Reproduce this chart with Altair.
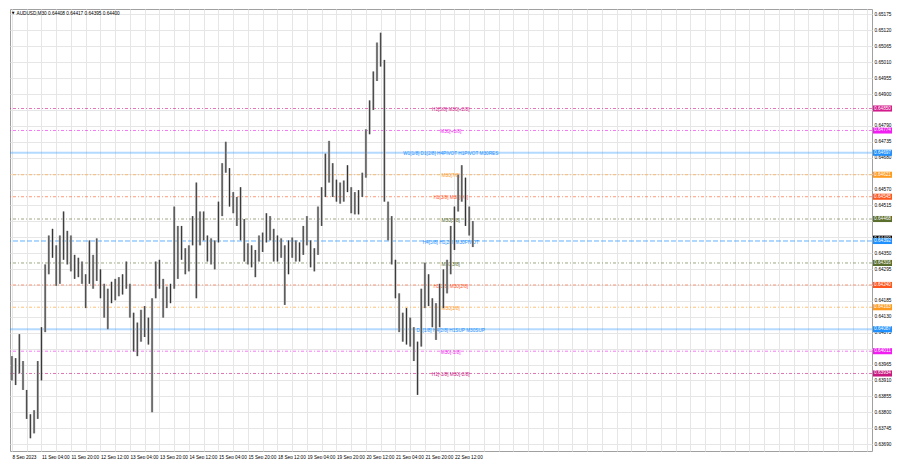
import json
import altair as alt
import pandas as pd

# ---------------- data ----------------
symbol = "AUDUSD,M30"
last_ohlc = [0.64408, 0.64417, 0.64395, 0.64400]

# 2-hour candles (every 4 M30 bars): highs / lows
highs = [0.63994, 0.63987, 0.64070, 0.63977, 0.63877, 0.63793, 0.63807, 0.63977, 0.64094, 0.64311,
         0.64411, 0.64434, 0.64377, 0.64411, 0.64494, 0.64427, 0.64411, 0.64344, 0.64334, 0.64321,
         0.64277, 0.64394, 0.64344, 0.64401, 0.64294, 0.64244, 0.64227, 0.64251, 0.64261, 0.64267,
         0.64277, 0.64321, 0.64244, 0.64144, 0.64110, 0.64154, 0.64167, 0.64127, 0.64194, 0.64321,
         0.64327, 0.64261, 0.64234, 0.64244, 0.64511, 0.64444, 0.64444, 0.64367, 0.64377, 0.64478,
         0.64594, 0.64494, 0.64494, 0.64411, 0.64401, 0.64394, 0.64528, 0.64661, 0.64735, 0.64644,
         0.64561, 0.64544, 0.64578, 0.64468, 0.64384, 0.64377, 0.64361, 0.64411, 0.64421, 0.64488,
         0.64478, 0.64434, 0.64411, 0.64401, 0.64377, 0.64394, 0.64404, 0.64394, 0.64387, 0.64444,
         0.64478, 0.64394, 0.64367, 0.64511, 0.64578, 0.64694, 0.64738, 0.64661, 0.64604, 0.64594,
         0.64601, 0.64654, 0.64578, 0.64561, 0.64568, 0.64628, 0.64778, 0.64878, 0.64978, 0.65078,
         0.65112, 0.65018, 0.64528, 0.64478, 0.64327, 0.64211, 0.64144, 0.64160, 0.64127, 0.64094,
         0.64044, 0.64227, 0.64317, 0.64277, 0.64194, 0.64177, 0.64244, 0.64294, 0.64327, 0.64444,
         0.64511, 0.64621, 0.64654, 0.64611, 0.64511, 0.64461]
lows = [0.63910, 0.63894, 0.63934, 0.63877, 0.63777, 0.63710, 0.63727, 0.63777, 0.63910, 0.64077,
        0.64277, 0.64334, 0.64237, 0.64244, 0.64327, 0.64311, 0.64287, 0.64261, 0.64267, 0.64244,
        0.64160, 0.64244, 0.64227, 0.64254, 0.64194, 0.64127, 0.64087, 0.64177, 0.64187, 0.64201,
        0.64207, 0.64227, 0.64127, 0.64010, 0.63994, 0.64044, 0.64060, 0.64034, 0.63800, 0.64194,
        0.64227, 0.64127, 0.64160, 0.64177, 0.64227, 0.64261, 0.64327, 0.64277, 0.64287, 0.64377,
        0.64194, 0.64377, 0.64394, 0.64321, 0.64311, 0.64294, 0.64387, 0.64478, 0.64628, 0.64511,
        0.64488, 0.64444, 0.64394, 0.64321, 0.64311, 0.64301, 0.64267, 0.64321, 0.64354, 0.64387,
        0.64394, 0.64321, 0.64321, 0.64334, 0.64171, 0.64277, 0.64334, 0.64321, 0.64321, 0.64344,
        0.64377, 0.64301, 0.64287, 0.64344, 0.64444, 0.64544, 0.64594, 0.64544, 0.64528, 0.64521,
        0.64528, 0.64561, 0.64488, 0.64484, 0.64484, 0.64544, 0.64611, 0.64761, 0.64845, 0.64945,
        0.64995, 0.64528, 0.64394, 0.64311, 0.64194, 0.64077, 0.64044, 0.64034, 0.64027, 0.63977,
        0.63860, 0.64027, 0.64160, 0.64167, 0.64094, 0.64050, 0.64094, 0.64160, 0.64211, 0.64277,
        0.64361, 0.64494, 0.64528, 0.64444, 0.64411, 0.64371]
bars = [i * 4 for i in range(len(highs))]  # M30 bar index of each candle

# Murrey-math style levels
level_prices = [0.64850, 0.64774, 0.64697, 0.64621, 0.64545, 0.64468, 0.64392,
                0.64316, 0.64240, 0.64163, 0.64087, 0.64011, 0.63934]
level_texts = ["H1[5/8] M30[+2/8]", "M30[+1/8]", "W1[1/8] D1[2/8] H4PIVOT H1PIVOT M30RES",
               "M30[7/8]", "H1[3/8] M30[6/8]", "M30[5/8]", "H4[3/8] H1[2/8] M30PIVOT",
               "M30[3/8]", "H1[1/8] M30[2/8]", "M30[1/8]", "D1[1/8] H4[2/8] H1SUP M30SUP",
               "M30[-1/8]", "H1[-1/8] M30[-2/8]"]
level_kinds = ["+2/8", "+1/8", "8/8", "7/8", "6/8", "5/8", "4/8",
               "3/8", "2/8", "1/8", "0/8", "-1/8", "-2/8"]
current_price = [0.64400]

# price axis ticks (those covered by the level boxes carry no label) and time axis labels
y_ticks = [0.65175, 0.65120, 0.65065, 0.65010, 0.64955, 0.64900, 0.64845, 0.64790, 0.64735,
           0.64680, 0.64625, 0.64570, 0.64515, 0.64460, 0.64405, 0.64350, 0.64295, 0.64240,
           0.64185, 0.64130, 0.64075, 0.64020, 0.63965, 0.63910, 0.63855, 0.63800, 0.63745,
           0.63690]
y_hidden = [0.64845, 0.64625, 0.64460, 0.64405, 0.64240, 0.64020]
x_label_bars = [0, 32, 64, 96, 128, 160, 192, 224, 256, 288, 320, 352, 384, 416, 448, 480]
x_labels = ["8 Sep 2023", "11 Sep 04:00", "11 Sep 20:00", "12 Sep 12:00", "13 Sep 04:00",
            "13 Sep 20:00", "14 Sep 12:00", "15 Sep 04:00", "15 Sep 20:00", "18 Sep 12:00",
            "19 Sep 04:00", "19 Sep 20:00", "20 Sep 12:00", "21 Sep 04:00", "21 Sep 20:00",
            "22 Sep 12:00"]
text_bar = 476  # bar around which the indicator writes its level names

# ---------------- styling ----------------
W, H = 862, 442
FONT = "Liberation Sans"
FS = 4.7
KIND_COLORS = {"+2/8": "#d41b8c", "+1/8": "#f01ef0", "8/8": "#1e90ff", "7/8": "#ff9a1f",
               "6/8": "#ff561f", "5/8": "#5a6e2e", "4/8": "#1e90ff", "3/8": "#5a6e2e",
               "2/8": "#ff561f", "1/8": "#ff9a1f", "0/8": "#1e90ff", "-1/8": "#f01ef0",
               "-2/8": "#c8187f"}

grid_bars = list(range(0, 929, 16))
x_label_expr = ("indexof(%s, datum.value) >= 0 ? %s[indexof(%s, datum.value)] : ''"
                % (json.dumps(x_label_bars), json.dumps(x_labels), json.dumps(x_label_bars)))
y_label_expr = ("indexof(%s, datum.value) >= 0 ? '' : format(datum.value, '.5f')"
                % json.dumps(y_hidden))

xscale = alt.Scale(domain=[-2.13, 933], nice=False, zero=False)
yscale = alt.Scale(domain=[0.63666, 0.65194], nice=False, zero=False)
xaxis = alt.Axis(values=grid_bars, labelExpr=x_label_expr, grid=True, gridColor="#e6e6e6",
                 gridWidth=1, ticks=False, domain=False, labelFont=FONT, labelFontSize=FS,
                 labelColor="#000000", labelAlign="left", labelPadding=3, labelOverlap=False,
                 labelFlush=False, title=None, zindex=0)
yaxis = alt.Axis(orient="right", values=y_ticks, labelExpr=y_label_expr, grid=True,
                 gridColor="#e6e6e6", gridWidth=1, ticks=False, domain=False, labelFont=FONT,
                 labelFontSize=FS, labelColor="#000000", labelPadding=2, labelOverlap=False,
                 labelFlush=False, labelBaseline="middle", title=None, zindex=0)


def X(field):
    return alt.X(field, scale=xscale, axis=xaxis)


def Y(field):
    return alt.Y(field, scale=yscale, axis=yaxis)


color_scale = alt.Scale(domain=list(KIND_COLORS.keys()), range=list(KIND_COLORS.values()))

candles = pd.DataFrame({"bar": bars, "high": highs, "low": lows})
levels = pd.DataFrame({"price": level_prices, "label": level_texts, "kind": level_kinds})
cur = pd.DataFrame({"price": current_price})
title_df = pd.DataFrame({"t": [symbol + "  " + " ".join("%.5f" % v for v in last_ohlc)],
                         "tri": ["\u25BC"]})

dashdot_kinds = ["+2/8", "+1/8", "7/8", "6/8", "5/8", "3/8", "2/8", "1/8", "-1/8", "-2/8"]

lines_dd = alt.Chart(levels).transform_filter(
    alt.FieldOneOfPredicate(field="kind", oneOf=dashdot_kinds)
).mark_rule(strokeWidth=1, strokeDash=[3, 2, 1, 2], opacity=0.6).encode(
    y=Y("price:Q"), color=alt.Color("kind:N", scale=color_scale, legend=None))

lines_pivot = alt.Chart(levels).transform_filter(
    alt.FieldOneOfPredicate(field="kind", oneOf=["4/8"])
).mark_rule(strokeWidth=1, strokeDash=[5, 2], opacity=0.7).encode(
    y=Y("price:Q"), color=alt.Color("kind:N", scale=color_scale, legend=None))

lines_solid = alt.Chart(levels).transform_filter(
    alt.FieldOneOfPredicate(field="kind", oneOf=["8/8", "0/8"])
).mark_rule(strokeWidth=2, opacity=0.33).encode(
    y=Y("price:Q"), color=alt.Color("kind:N", scale=color_scale, legend=None))

level_text = alt.Chart(levels).mark_text(
    font=FONT, fontSize=FS, baseline="middle", align="center", dy=1.6
).encode(
    x=alt.datum(text_bar, scale=xscale, axis=xaxis),
    y=Y("price:Q"), text="label:N",
    color=alt.Color("kind:N", scale=color_scale, legend=None))

wicks = alt.Chart(candles).mark_rule(strokeWidth=2.4, color="#bcbcbc").encode(
    x=X("bar:Q"), y=Y("high:Q"), y2="low:Q")
bodies = alt.Chart(candles).mark_rule(strokeWidth=1.0, color="#333333").encode(
    x=X("bar:Q"), y=Y("high:Q"), y2="low:Q")

box_shape = "M-1,-0.32H1V0.32H-1Z"
cur_box = alt.Chart(cur).mark_point(shape=box_shape, size=361, filled=True, opacity=1,
                                    strokeWidth=0, color="#000000").encode(
    x=alt.value(W + 10.5), y=Y("price:Q"))
cur_txt = alt.Chart(cur).mark_text(font=FONT, fontSize=FS, color="#ffffff", baseline="middle",
                                   align="center").encode(
    x=alt.value(W + 10.5), y=Y("price:Q"), text=alt.Text("price:Q", format=".5f"))
boxes = alt.Chart(levels).mark_point(shape=box_shape, size=361, filled=True, opacity=1,
                                     strokeWidth=0).encode(
    x=alt.value(W + 10.5), y=Y("price:Q"),
    color=alt.Color("kind:N", scale=color_scale, legend=None))
box_txt = alt.Chart(levels).mark_text(font=FONT, fontSize=FS, color="#ffffff",
                                      baseline="middle", align="center").encode(
    x=alt.value(W + 10.5), y=Y("price:Q"), text=alt.Text("price:Q", format=".5f"))

title_txt = alt.Chart(title_df).mark_text(font=FONT, fontSize=FS, color="#000000",
                                          align="left", baseline="middle").encode(
    x=alt.value(6.5), y=alt.value(4.6), text="t:N")
title_tri = alt.Chart(title_df).mark_text(font="DejaVu Sans", fontSize=3.6, color="#000000",
                                          align="center", baseline="middle").encode(
    x=alt.value(3), y=alt.value(4.4), text="tri:N")

chart = alt.layer(
    lines_solid, lines_dd, lines_pivot, level_text, wicks, bodies,
    cur_box, cur_txt, boxes, box_txt, title_tri, title_txt
).properties(
    width=W, height=H, padding={"left": 1, "top": 1, "right": 0, "bottom": 0},
    background="#ffffff"
).configure_view(stroke="#a0a0a0", strokeWidth=1)

chart.save("out.html", embed_options={"renderer": "svg", "actions": False})
